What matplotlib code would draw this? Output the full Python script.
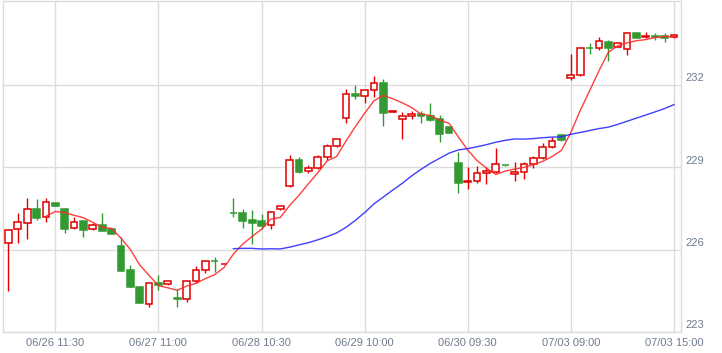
import numpy as np
import pandas as pd
import matplotlib
matplotlib.use("Agg")
import matplotlib.pyplot as plt
import matplotlib.transforms as mtransforms

plt.rcParams['font.family'] = ['Liberation Sans', 'DejaVu Sans']

# 30-bar price data (open / high / low / close)
opens = [226.23, 226.73, 226.95, 227.47, 227.18, 227.69, 227.47, 226.77, 227.04, 226.73,
         226.89, 226.75, 226.13, 225.25, 224.63, 224.02, 224.77, 224.73, 224.23, 224.19,
         224.85, 225.24, 225.59, 225.46, 227.33, 227.32, 227.06, 227.03, 226.88, 227.46,
         228.30, 229.25, 228.84, 228.95, 229.35, 229.75, 230.77, 231.65, 231.57, 231.79,
         232.05, 231.00, 230.76, 230.84, 230.93, 230.85, 230.75, 230.45, 229.16, 228.45,
         228.48, 228.77, 228.83, 229.08, 228.75, 228.81, 229.10, 229.32, 229.72, 230.16,
         232.23, 232.33, 233.33, 233.32, 233.53, 233.38, 233.28, 233.86, 233.72, 233.75,
         233.76, 233.71]
highs = [226.76, 227.32, 227.86, 227.83, 227.86, 227.70, 227.50, 227.19, 227.05, 226.95,
         227.32, 226.77, 226.47, 225.44, 224.65, 224.80, 225.07, 224.85, 224.56, 224.87,
         225.40, 225.60, 225.74, 225.48, 227.86, 227.47, 227.44, 227.28, 227.41, 227.59,
         229.45, 229.35, 229.06, 229.44, 229.83, 230.03, 231.83, 231.98, 231.80, 232.31,
         232.20, 231.05, 231.01, 231.05, 231.04, 231.34, 230.89, 230.46, 229.55, 228.99,
         229.05, 229.01, 229.68, 229.09, 229.17, 229.17, 229.40, 229.86, 230.10, 230.18,
         233.10, 233.34, 233.50, 233.74, 233.62, 233.51, 233.92, 233.88, 233.92, 233.86,
         233.86, 233.82]
lows = [224.49, 226.23, 226.37, 227.07, 226.99, 227.58, 226.61, 226.76, 226.44, 226.70,
        226.66, 226.55, 225.22, 224.64, 224.04, 223.90, 224.53, 224.72, 223.90, 224.10,
        224.80, 225.13, 225.17, 225.46, 227.19, 226.77, 226.20, 226.73, 226.73, 227.45,
        228.28, 228.80, 228.77, 228.93, 229.25, 229.74, 230.59, 231.46, 231.32, 231.56,
        230.49, 230.99, 230.01, 230.73, 230.59, 230.68, 229.92, 230.24, 228.07, 228.19,
        228.41, 228.37, 228.80, 229.05, 228.50, 228.55, 228.95, 229.30, 229.68, 229.95,
        232.16, 232.31, 233.10, 233.25, 232.85, 233.36, 233.07, 233.68, 233.70, 233.62,
        233.53, 233.70]
closes = [226.70, 226.99, 227.46, 227.16, 227.72, 227.59, 226.76, 226.99, 226.72, 226.88,
          226.68, 226.57, 225.23, 224.65, 224.07, 224.77, 224.71, 224.84, 224.19, 224.85,
          225.24, 225.58, 225.57, 225.48, 227.31, 227.05, 226.97, 226.87, 227.35, 227.58,
          229.24, 228.83, 228.95, 229.35, 229.75, 230.01, 231.64, 231.57, 231.79, 232.04,
          230.97, 231.04, 230.84, 230.93, 230.85, 230.71, 230.21, 230.25, 228.43, 228.49,
          228.77, 228.85, 229.10, 229.06, 228.83, 229.10, 229.32, 229.72, 229.93, 229.97,
          232.33, 233.32, 233.31, 233.57, 233.34, 233.50, 233.86, 233.70, 233.76, 233.73,
          233.68, 233.81]

tick_bars = [5, 16, 27, 38, 49, 60, 71]
tick_labels = ['06/26 11:30', '06/27 11:00', '06/28 10:30', '06/29 10:00',
               '06/30 09:30', '07/03 09:00', '07/03 15:00']
price_ticks = [223, 226, 229, 232]

df = pd.DataFrame({'open': opens, 'high': highs, 'low': lows, 'close': closes})
x = np.arange(len(df))
ma_short = df['close'].rolling(5).mean()
ma_long = df['close'].rolling(25).mean()

UP = '#e00000'
DOWN = '#339933'
GRID = '#dcdcdc'
LABEL = '#6e7b8e'

fig = plt.figure(figsize=(7.22, 3.53), dpi=100)
ax = fig.add_axes([3 / 722, 21 / 353, 678 / 722, 331 / 353])

up = df['close'] >= df['open']
colors = np.where(up, UP, DOWN)

# wicks
ax.vlines(x, df['low'], df['high'], colors=colors, linewidth=1, zorder=3)

# bodies
bottom = np.minimum(df['open'], df['close'])
height = np.maximum(np.abs(df['close'] - df['open']), 0.015)
ax.bar(x[up], height[up], bottom=bottom[up], width=0.72, facecolor='white',
       edgecolor=UP, linewidth=1.1, zorder=4)
ax.bar(x[~up], height[~up], bottom=bottom[~up], width=0.72, facecolor=DOWN,
       edgecolor=DOWN, linewidth=1.1, zorder=4)

# moving averages
ax.plot(x, ma_short, color='#ff2a2a', linewidth=1, alpha=0.9, zorder=5)
ax.plot(x, ma_long, color='#2a2aff', linewidth=1, alpha=0.9, zorder=5)

ax.set_xlim(-0.58, 71.75)
ax.set_ylim(223, 223 + 331 / 27.5)

ax.set_xticks(tick_bars)
ax.set_xticklabels(tick_labels)
ax.set_yticks(price_ticks)
ax.set_yticklabels([str(p) for p in price_ticks])
ax.yaxis.tick_right()
ax.tick_params(length=0, labelsize=8, colors=LABEL)
ax.tick_params(axis='x', pad=4)
ax.tick_params(axis='y', pad=3)
shift = mtransforms.ScaledTranslation(0, 7.5 / 100, fig.dpi_scale_trans)
for lab in ax.get_yticklabels():
    lab.set_transform(lab.get_transform() + shift)

ax.grid(True, color=GRID, linewidth=1, zorder=0)
ax.set_axisbelow(True)
for side in ['left', 'right', 'bottom', 'top']:
    ax.spines[side].set_color(GRID)
    ax.spines[side].set_linewidth(1)

fig.savefig('out.png', dpi=100)
